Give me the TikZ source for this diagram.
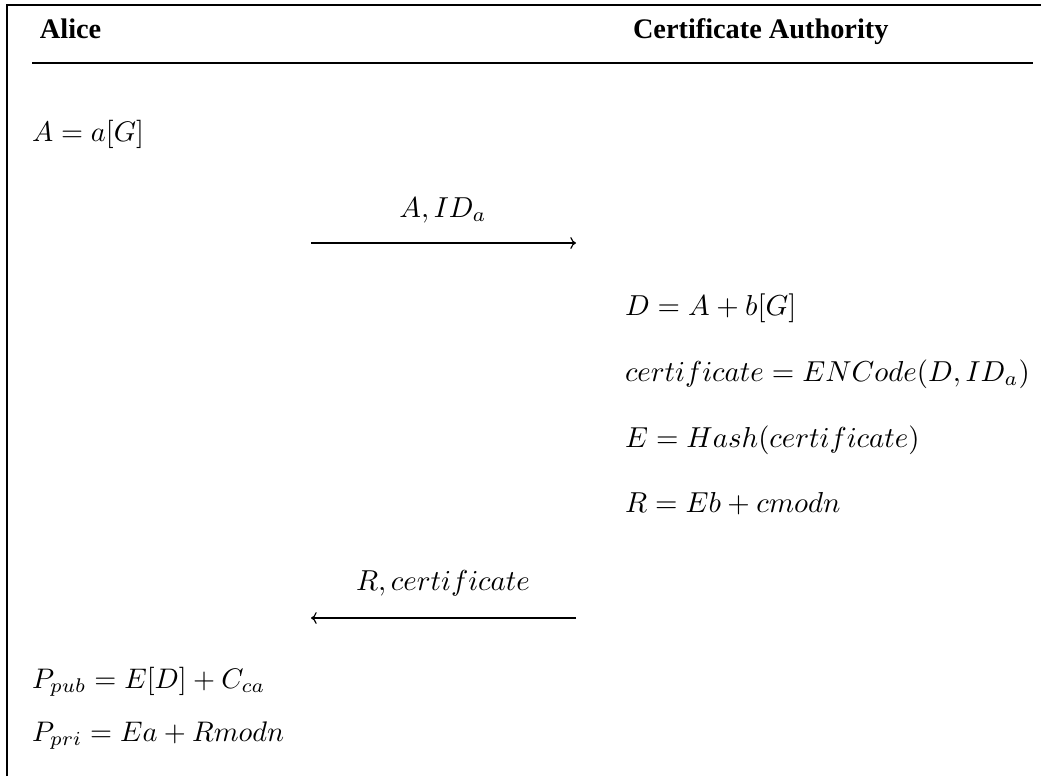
\documentclass[tikz,border=0pt]{standalone}
\usepackage{fontspec}
\newfontfamily\hdrfont{Liberation Serif}
\usetikzlibrary{arrows.meta}
\tikzset{
  txt/.style={anchor=base west, inner sep=0pt, outer sep=0pt},
  catxt/.style={txt, scale=1.02},
  lbl/.style={anchor=base, inner sep=0pt, outer sep=0pt, scale=1.02},
  hdr/.style={anchor=base west, inner sep=0pt, outer sep=0pt, font=\hdrfont\bfseries},
  msg/.style={-{To[length=2pt,width=4.2pt]}, line width=0.4pt},
  rule/.style={line width=0.4pt}
}
\begin{document}
\begin{tikzpicture}[x=0.3533pt,y=-0.3533pt]
\useasboundingbox (0,0) rectangle (1041,776);
% frame
\coordinate (fbl) at (7,776);
\coordinate (ftl) at (7,5);
\coordinate (ftr) at (1041,5);
\draw[rule] (fbl) -- (ftl) -- (ftr);
% headers
\node[hdr] (alice) at (40,38) {Alice};
\node[hdr] (ca) at (633,38) {Certificate Authority};
\coordinate (rl) at (32,63);
\coordinate (rr) at (1033,63);
\draw[rule] (rl) -- (rr);
% Alice step 1
\node[txt] (s1) at (32,141) {$A = a[G]$};
% message 1
\node[lbl] (m1) at (443,217) {$A, ID_a$};
\coordinate (m1s) at (311,243);
\coordinate (m1e) at (576,243);
\draw[msg] (m1s) -- (m1e);
% CA steps
\node[catxt] (c1) at (625,315) {$D = A + b[G]$};
\node[catxt] (c2) at (625,381) {$certificate = ENCode(D, ID_a)$};
\node[catxt] (c3) at (625,447) {$E = Hash(certificate)$};
\node[catxt] (c4) at (625,512) {$R = Eb + cmodn$};
% message 2
\node[lbl] (m2) at (443,590) {$R, certificate$};
\coordinate (m2s) at (576,618);
\coordinate (m2e) at (311,618);
\draw[msg] (m2s) -- (m2e);
% Alice final
\node[txt] (p1) at (32,688) {$P_{pub} = E[D] + C_{ca}$};
\node[txt] (p2) at (32,741) {$P_{pri} = Ea + Rmodn$};
\end{tikzpicture}
\end{document}
